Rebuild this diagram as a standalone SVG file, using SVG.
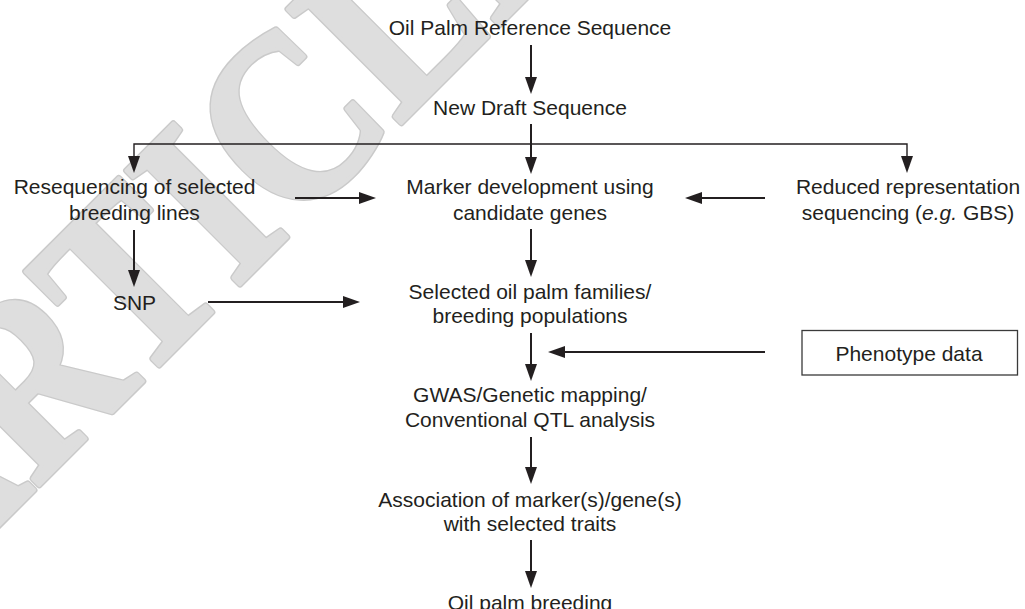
<svg xmlns="http://www.w3.org/2000/svg" width="1025" height="609" viewBox="0 0 1025 609">
<style>
.t{font-family:"Liberation Sans",Arial,sans-serif;font-size:21px;fill:#231f20;text-anchor:middle}
.a{stroke:#231f20;stroke-width:2;fill:none}
.h{stroke:#231f20;stroke-width:1.4;fill:none}
.wm{font-family:"Liberation Serif","Times New Roman",serif;font-weight:bold;font-size:245px;text-anchor:middle;stroke-linejoin:round}
.wo{fill:#cacaca;stroke:#cacaca;stroke-width:7}
.wi{fill:#dedede;stroke:#dedede;stroke-width:4}
</style>
<defs>
<marker id="ah" markerUnits="userSpaceOnUse" markerWidth="17" markerHeight="12" refX="7" refY="6" orient="auto">
<path d="M0,0 L17,6 L0,12 z" fill="#231f20"/>
</marker>
</defs>
<rect width="1025" height="609" fill="#fff"/>
<g id="watermark" transform="translate(262,262) rotate(-45) scale(0.85,1)">
<text class="wm wo">ARTICLE</text>
<text class="wm wi">ARTICLE</text>
</g>
<g id="connectors">
<line class="a" x1="531" y1="45" x2="531" y2="84" marker-end="url(#ah)"/>
<line class="a" x1="531" y1="124" x2="531" y2="164" marker-end="url(#ah)"/>
<polyline class="h" points="134,163 134,144 907,144 907,163"/>
<polygon points="128,156 140,156 134,173" fill="#231f20"/>
<polygon points="901,156 913,156 907,173" fill="#231f20"/>
<line class="a" x1="295" y1="198" x2="366" y2="198" marker-end="url(#ah)"/>
<line class="a" x1="765" y1="198" x2="695" y2="198" marker-end="url(#ah)"/>
<line class="a" x1="531" y1="229" x2="531" y2="267" marker-end="url(#ah)"/>
<line class="a" x1="134" y1="230" x2="134" y2="277" marker-end="url(#ah)"/>
<line class="a" x1="208" y1="302" x2="350" y2="302" marker-end="url(#ah)"/>
<line class="a" x1="531" y1="333" x2="531" y2="371" marker-end="url(#ah)"/>
<line class="a" x1="765" y1="352" x2="558" y2="352" marker-end="url(#ah)"/>
<line class="a" x1="531" y1="437" x2="531" y2="474" marker-end="url(#ah)"/>
<line class="a" x1="531" y1="540" x2="531" y2="578" marker-end="url(#ah)"/>
</g>
<g id="n-ref"><text class="t" x="530" y="35">Oil Palm Reference Sequence</text></g>
<g id="n-draft"><text class="t" x="530" y="115">New Draft Sequence</text></g>
<g id="n-reseq"><text class="t" x="134.5" y="194">Resequencing of selected</text><text class="t" x="134.5" y="220">breeding lines</text></g>
<g id="n-marker"><text class="t" x="530" y="194">Marker development using</text><text class="t" x="530" y="220">candidate genes</text></g>
<g id="n-rrs"><text class="t" x="908" y="194">Reduced representation</text><text class="t" x="908" y="220">sequencing (<tspan font-style="italic">e.g.</tspan> GBS)</text></g>
<g id="n-snp"><text class="t" x="134.5" y="310">SNP</text></g>
<g id="n-families"><text class="t" x="530" y="299">Selected oil palm families/</text><text class="t" x="530" y="323">breeding populations</text></g>
<g id="n-pheno"><rect x="802" y="330.5" width="215.5" height="44.5" fill="#fff" stroke="#3a3a3a" stroke-width="1.3"/><text class="t" x="909" y="361">Phenotype data</text></g>
<g id="n-gwas"><text class="t" x="530" y="402">GWAS/Genetic mapping/</text><text class="t" x="530" y="427">Conventional QTL analysis</text></g>
<g id="n-assoc"><text class="t" x="530" y="507">Association of marker(s)/gene(s)</text><text class="t" x="530" y="531">with selected traits</text></g>
<g id="n-breed"><text class="t" x="530" y="610">Oil palm breeding</text></g>
</svg>
